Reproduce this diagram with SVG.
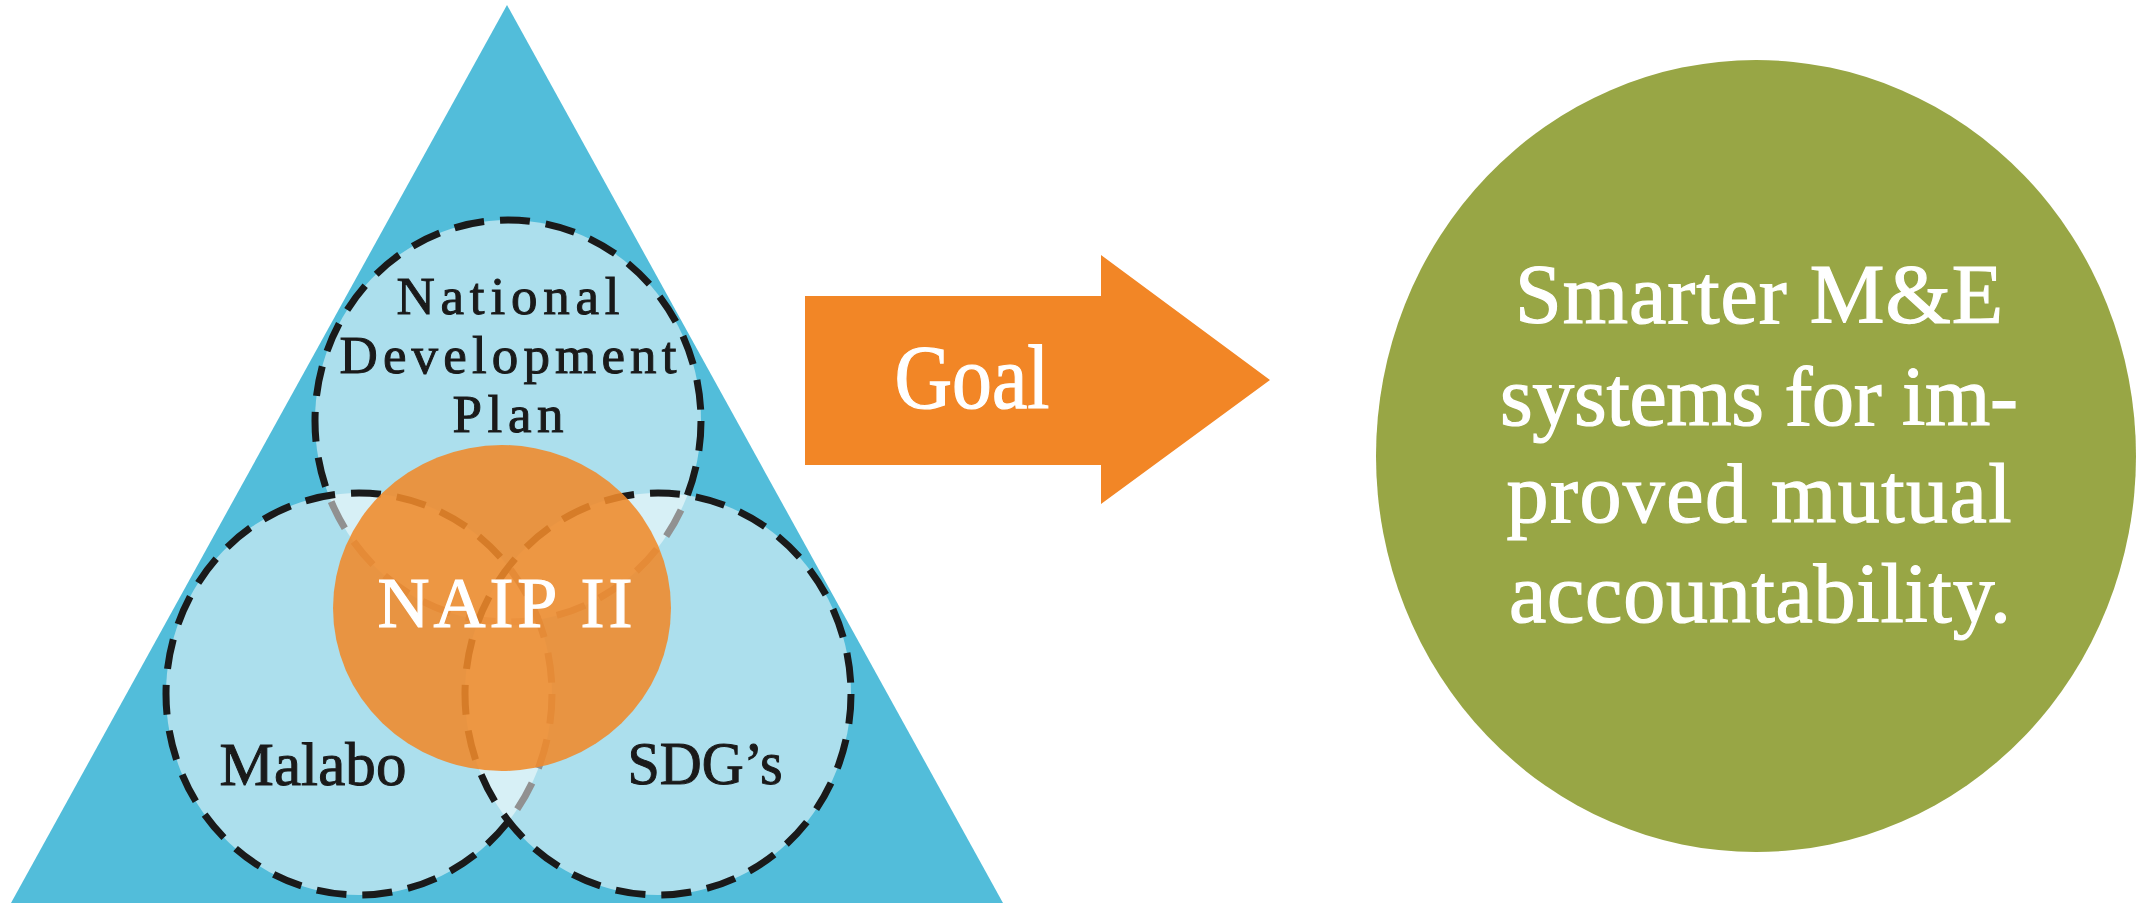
<svg xmlns="http://www.w3.org/2000/svg" width="2138" height="907" viewBox="0 0 2138 907">
<style>
.bg{fill:#FFFFFF}
.tri{fill:#52BDDA}
.venn{fill:#FFFFFF;fill-opacity:0.52;stroke:#1A1A1A;stroke-width:7;stroke-dasharray:30 16}
.core{fill:#F08A2A;fill-opacity:0.88}
.arrow{fill:#F28626}
.goalc{fill:#98A645}
.lbl{font-family:"Liberation Serif","DejaVu Serif",serif;fill:#1A1A1A;stroke:#1A1A1A;stroke-width:1;text-anchor:middle}
.s53{font-size:53px}
.s61{font-size:61px}
.wlbl{font-family:"Liberation Serif","DejaVu Serif",serif;fill:#FFFFFF;stroke:#FFFFFF;stroke-width:1.2;text-anchor:middle}
</style>
<rect class="bg" x="0" y="0" width="2138" height="907"/>
<g id="triangle">
<polygon class="tri" points="507,5 1003,903 11,903"/>
</g>
<g id="node-ndp">
<ellipse class="venn" cx="508" cy="421" rx="193" ry="201"/>
<text class="lbl s53" x="508" y="314" textLength="223" lengthAdjust="spacing">National</text>
<text class="lbl s53" x="508" y="373" textLength="337" lengthAdjust="spacing">Development</text>
<text class="lbl s53" x="508" y="432" textLength="111" lengthAdjust="spacing">Plan</text>
</g>
<g id="node-malabo">
<ellipse class="venn" cx="359" cy="694" rx="193" ry="201"/>
<text class="lbl s61" x="313" y="785" textLength="187" lengthAdjust="spacing">Malabo</text>
</g>
<g id="node-sdgs">
<ellipse class="venn" cx="658" cy="694" rx="193" ry="201"/>
<text class="lbl s61" x="705" y="784" textLength="155" lengthAdjust="spacingAndGlyphs">SDG’s</text>
</g>
<g id="node-naip">
<ellipse class="core" cx="502" cy="608" rx="169" ry="163"/>
<text class="wlbl" x="505" y="627" font-size="72" textLength="255" lengthAdjust="spacing">NAIP II</text>
</g>
<g id="connectors">
<path class="arrow" d="M805,296 H1101 V255 L1270,380 L1101,504 V465 H805 Z"/>
<text class="wlbl" x="972" y="408" font-size="90" textLength="155" lengthAdjust="spacingAndGlyphs">Goal</text>
</g>
<g id="node-goal">
<ellipse class="goalc" cx="1756" cy="456" rx="380" ry="396"/>
<text class="wlbl" font-size="84" x="1759" y="323" textLength="488" lengthAdjust="spacing">Smarter M&amp;E</text>
<text class="wlbl" font-size="84" x="1759" y="425" textLength="518" lengthAdjust="spacing">systems for im-</text>
<text class="wlbl" font-size="84" x="1759" y="522" textLength="505" lengthAdjust="spacing">proved mutual</text>
<text class="wlbl" font-size="84" x="1760" y="622" textLength="502" lengthAdjust="spacing">accountability.</text>
</g>
</svg>
